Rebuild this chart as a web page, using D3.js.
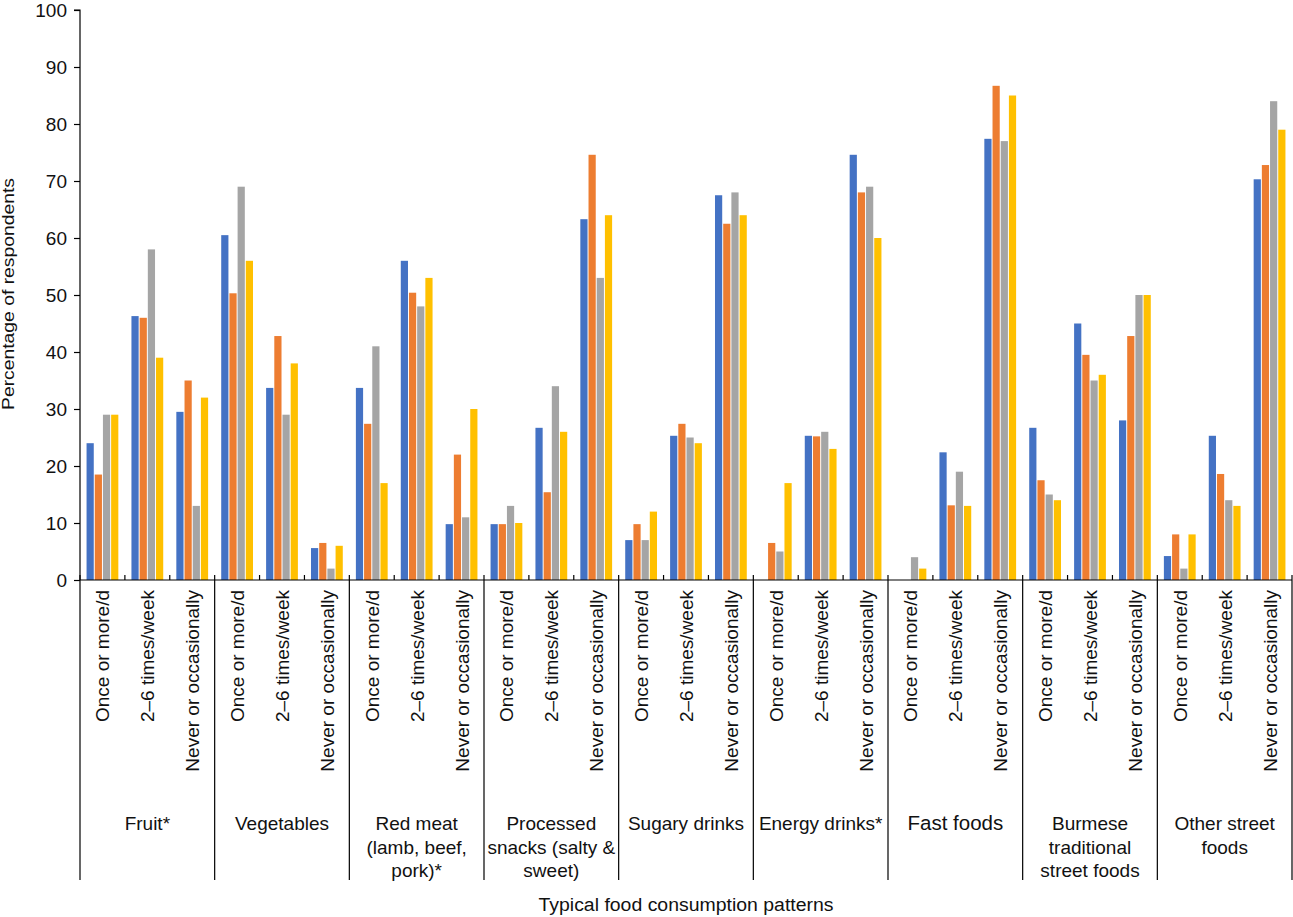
<!DOCTYPE html>
<html><head><meta charset="utf-8">
<script src="https://cdn.jsdelivr.net/npm/d3@7"></script>
<style>body{margin:0;background:#fff}svg{display:block}text{font-family:"Liberation Sans",Arial,sans-serif;fill:#111}</style>
</head><body>
<svg id="c" width="1293" height="917"></svg>
<script>
const groups = ["Fruit*","Vegetables","Red meat\n(lamb, beef,\npork)*","Processed\nsnacks (salty &\nsweet)","Sugary drinks","Energy drinks*","Fast foods","Burmese\ntraditional\nstreet foods","Other street\nfoods"];
const freqs = ["Once or more/d","2–6 times/week","Never or occasionally"];
const seriesNames = ["S1","S2","S3","S4"];
const colors = ["#4472C4","#ED7D31","#A5A5A5","#FFC000"];
const yTicks = [0,10,20,30,40,50,60,70,80,90,100];
// values[group][freq] = [s1,s2,s3,s4]
const fruit      = [[24,18.5,29,29],[46.3,46,58,39],[29.5,35,13,32]];
const vegetables = [[60.5,50.3,69,56],[33.7,42.8,29,38],[5.6,6.5,2,6]];
const redMeat    = [[33.7,27.4,41,17],[56,50.4,48,53],[9.8,22,11,30]];
const processed  = [[9.8,9.8,13,10],[26.7,15.4,34,26],[63.3,74.6,53,64]];
const sugary     = [[7,9.8,7,12],[25.3,27.4,25,24],[67.5,62.5,68,64]];
const energy     = [[0,6.5,5,17],[25.3,25.2,26,23],[74.6,68,69,60]];
const fast       = [[0,0,4,2],[22.4,13.1,19,13],[77.4,86.7,77,85]];
const burmese    = [[26.7,17.5,15,14],[45,39.5,35,36],[28,42.8,50,50]];
const otherSt    = [[4.2,8,2,8],[25.3,18.6,14,13],[70.3,72.8,84,79]];
const values = [fruit,vegetables,redMeat,processed,sugary,energy,fast,burmese,otherSt];

const svg = d3.select("#c");
const L=80, R=1292, T=10, B=580;
const y = d3.scaleLinear().domain([0,100]).range([B,T]);
const xg = d3.scaleBand().domain(d3.range(groups.length)).range([L,R]).paddingInner(0).paddingOuter(0);
const xs = d3.scaleBand().domain(d3.range(freqs.length)).range([0,xg.bandwidth()]);
const xb = d3.scaleBand().domain(d3.range(seriesNames.length)).range([0,xs.bandwidth()]).paddingOuter(0.8).paddingInner(0.12);

// bars
values.forEach((gv,gi)=>{
  gv.forEach((fv,fi)=>{
    svg.append("g").selectAll("rect").data(fv).join("rect")
      .attr("x",(d,si)=>xg(gi)+xs(fi)+xb(si))
      .attr("y",d=>y(d))
      .attr("width",xb.bandwidth())
      .attr("height",d=>B-y(d))
      .attr("fill",(d,si)=>colors[si]);
  });
});

// y axis
const ya = svg.append("g").attr("transform",`translate(${L},0)`)
  .call(d3.axisLeft(y).tickValues(yTicks).tickSize(6).tickPadding(7));
ya.select(".domain").attr("stroke","#000").attr("stroke-width",1.2).attr("d",`M-6,${T}H0V${B}`);
ya.selectAll(".tick line").attr("stroke","#000").attr("stroke-width",1.2);
ya.selectAll(".tick text").style("font-size","19px").attr("fill","#111");

// x axis line
svg.append("line").attr("x1",L).attr("x2",R).attr("y1",B).attr("y2",B).attr("stroke","#000").attr("stroke-width",1.2);
// small inner ticks at sub boundaries
groups.forEach((g,gi)=>{
  [1,2].forEach(k=>{
    const xx = xg(gi)+xs.step()*k;
    svg.append("line").attr("x1",xx).attr("x2",xx).attr("y1",B).attr("y2",B-5).attr("stroke","#000").attr("stroke-width",1.2);
  });
});
// group separators
d3.range(groups.length+1).forEach(i=>{
  const xx = i<groups.length ? xg(i) : R;
  svg.append("line").attr("x1",xx).attr("x2",xx).attr("y1",B-5).attr("y2",880).attr("stroke","#000").attr("stroke-width",1.2);
});
// sub labels + group labels
groups.forEach((g,gi)=>{
  freqs.forEach((f,fi)=>{
    const cx = xg(gi)+xs(fi)+xs.bandwidth()/2+7;
    svg.append("text").attr("transform",`translate(${cx},590) rotate(-90)`)
      .attr("text-anchor","end").style("font-size","19px").text(f);
  });
  const lines = g.split("\n");
  const cx = xg(gi)+xg.bandwidth()/2;
  const t = svg.append("text").attr("x",cx).attr("y",830).attr("text-anchor","middle")
    .style("font-size", g==="Fast foods" ? "20.5px" : "19px");
  lines.forEach((ln,li)=>t.append("tspan").attr("x",cx).attr("dy",li===0?0:23.5).text(ln));
});

// axis titles
svg.append("text").attr("x",686).attr("y",911).attr("text-anchor","middle").style("font-size","18px")
  .attr("textLength",295).attr("lengthAdjust","spacingAndGlyphs").text("Typical food consumption patterns");
svg.append("text").attr("transform",`translate(14,294) rotate(-90)`).attr("text-anchor","middle").style("font-size","16px")
  .attr("textLength",232).attr("lengthAdjust","spacingAndGlyphs").text("Percentage of respondents");
</script>
</body></html>
